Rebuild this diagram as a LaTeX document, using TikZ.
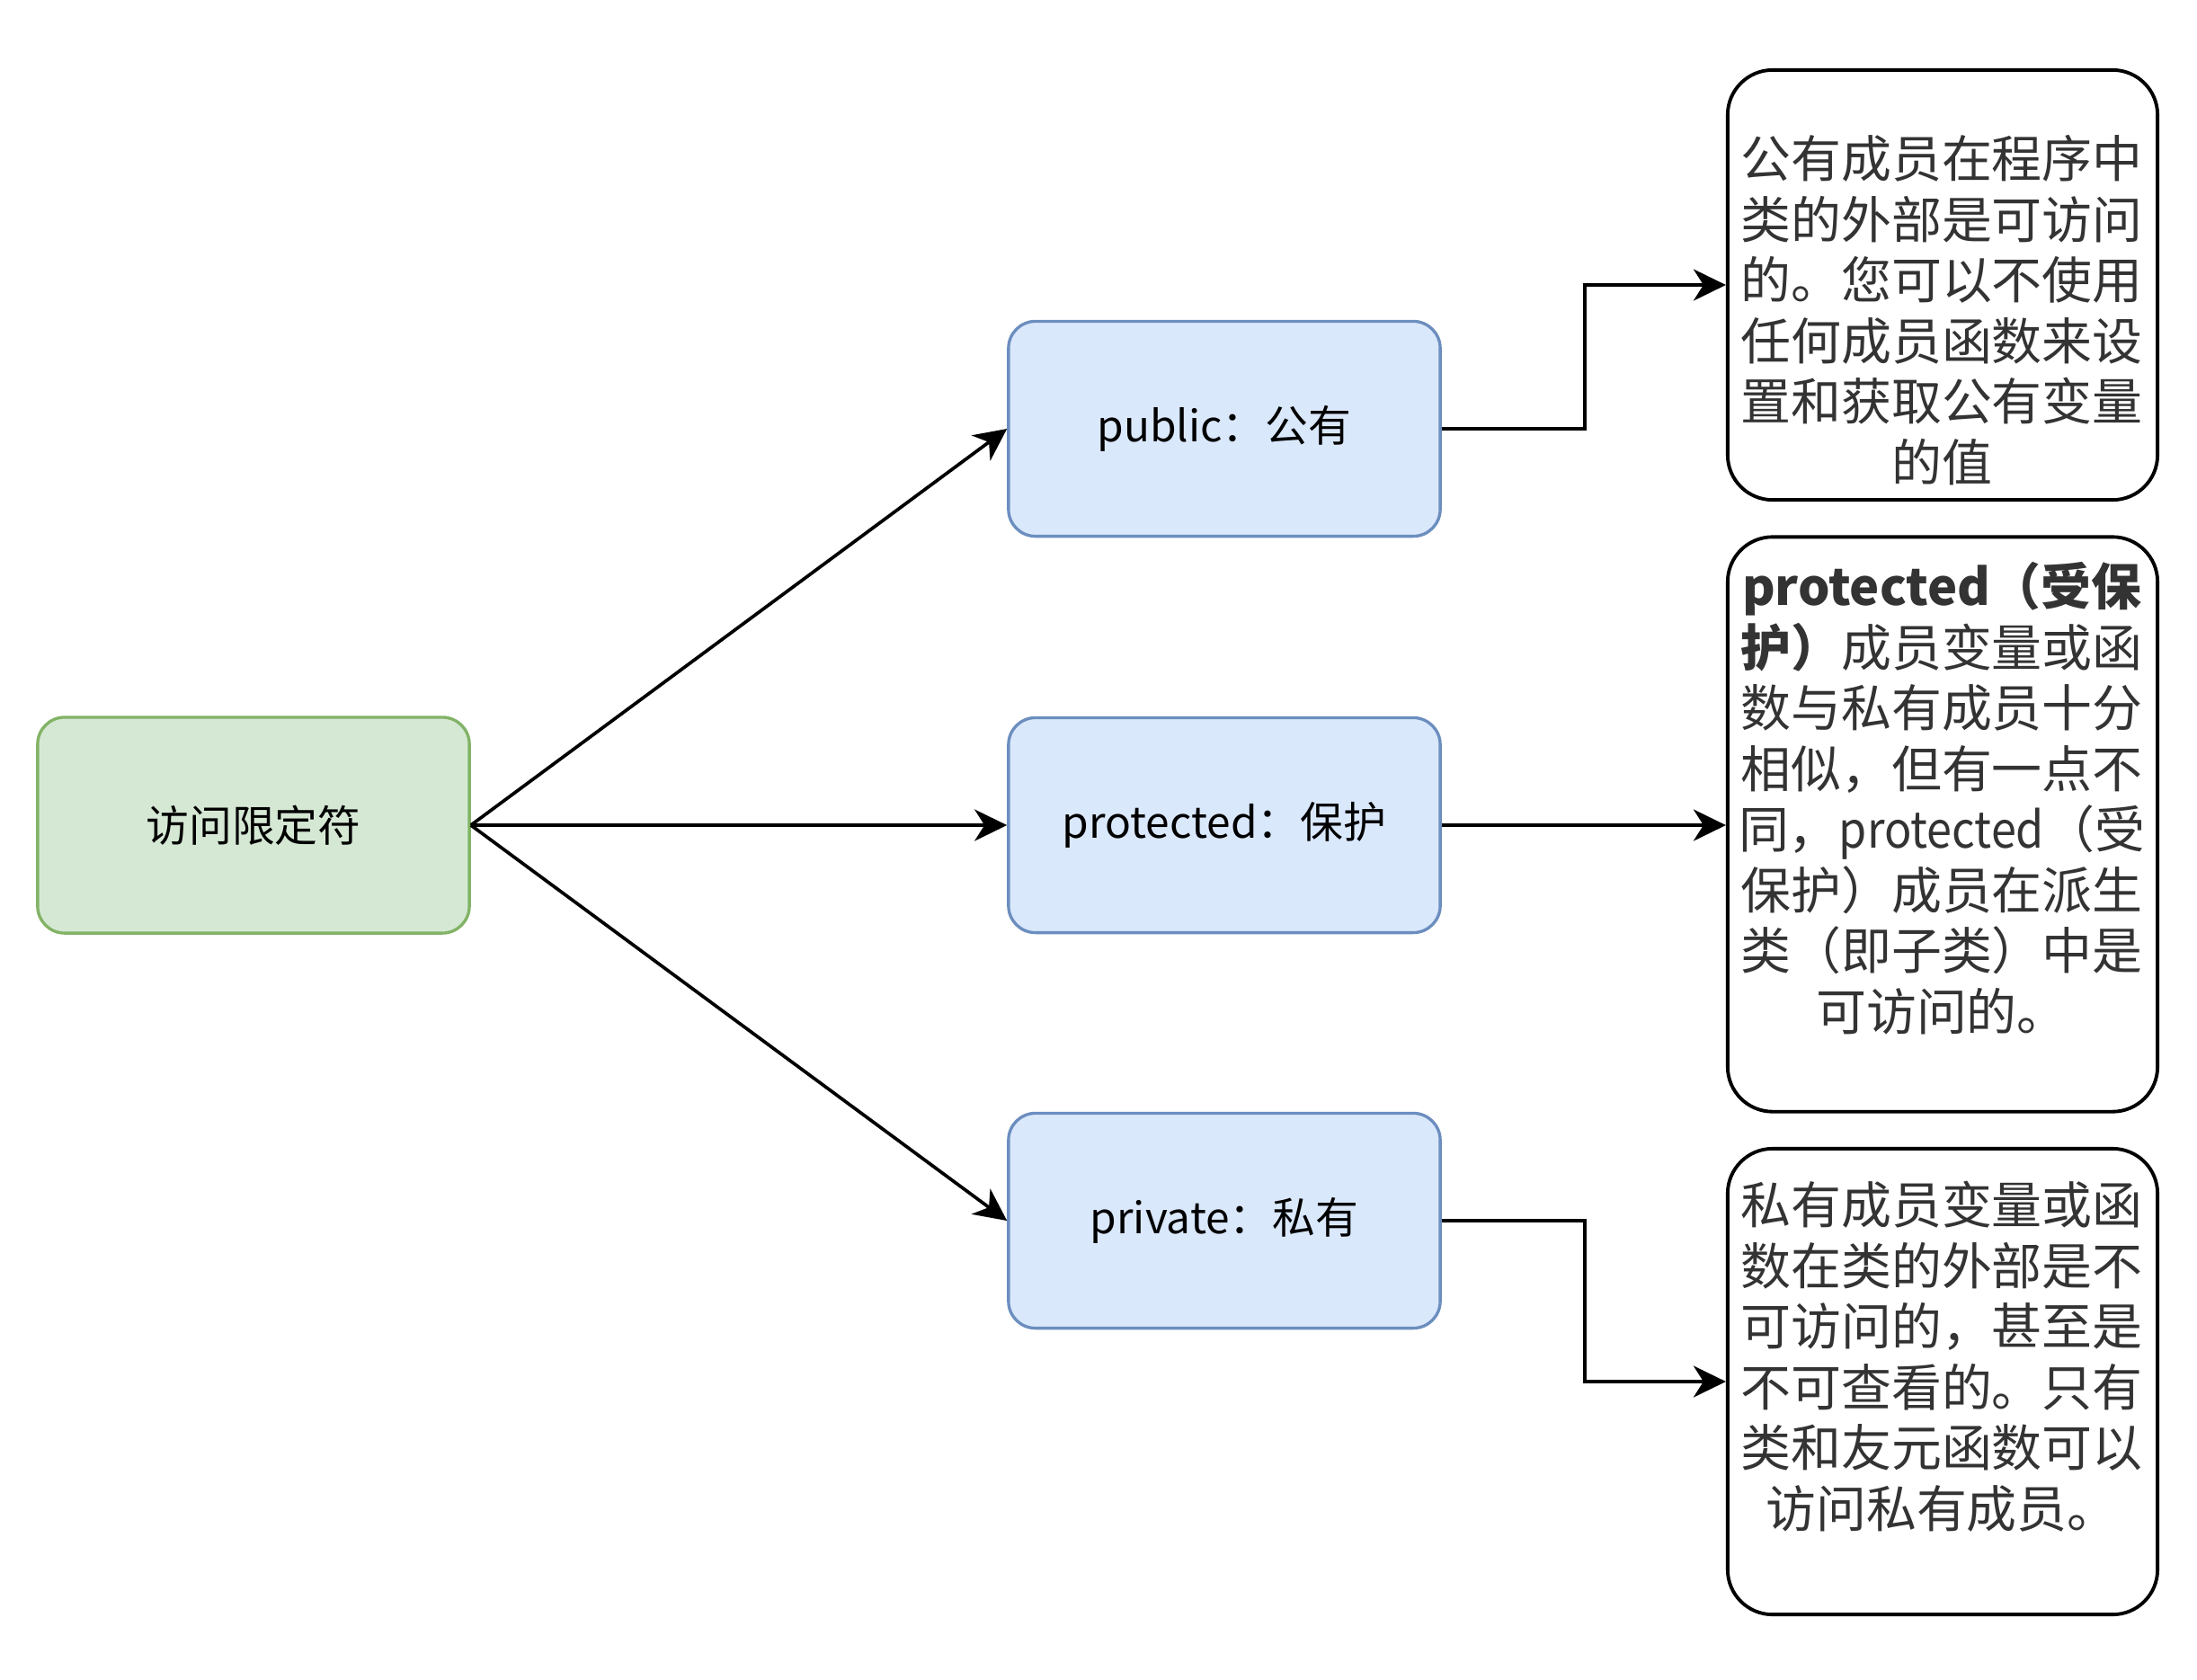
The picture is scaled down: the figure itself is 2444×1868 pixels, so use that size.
\documentclass[tikz,border=0pt]{standalone}
\usepackage{fontspec}
\setmainfont{Noto Sans CJK SC}
\newfontfamily\narrowlatin{Noto Sans CJK SC}[FakeStretch=0.9]
\usepackage{tikz}
\usetikzlibrary{arrows.meta,positioning}
\usepackage{xcolor}
\definecolor{rootfill}{HTML}{D5E8D4}
\definecolor{rootline}{HTML}{82B366}
\definecolor{kindfill}{HTML}{DAE8FC}
\definecolor{kindline}{HTML}{6C8EBF}
\definecolor{notegray}{HTML}{333333}

\begin{document}
\begin{tikzpicture}[
      x=0.01cm, y=-0.01cm,
      rootbox/.style={draw=rootline, fill=rootfill, line width=0.95pt, rounded corners=0.3cm,
        minimum width=4.8cm, minimum height=2.4cm, font=\fontsize{13.6pt}{16pt}\selectfont},
      kindbox/.style={draw=kindline, fill=kindfill, line width=0.95pt, rounded corners=0.3cm,
        minimum width=4.8cm, minimum height=2.39cm, font=\fontsize{13.6pt}{16pt}\selectfont},
      notebox/.style={draw, line width=1.1pt, rounded corners=0.5cm, minimum width=4.78cm},
      notetext/.style={align=center, text=notegray, inner sep=0pt,
        font=\fontsize{15.9pt}{19.2pt}\selectfont},
      link/.style={-{Stealth[length=3.6mm, width=3.5mm, inset=1.1mm]}, line width=1.05pt},
    ]
    \useasboundingbox (0,0) rectangle (2444,1868);

    % Root and the three kinds
    \node[rootbox] (root) at (282,918) {访问限定符};
    \foreach \y/\name/\txt in {477/pub/public：公有, 918/prot/protected：保护, 1358/priv/private：私有}
      \node[kindbox] (\name) at (1362,\y) {\txt};
    \foreach \name in {pub, prot, priv}
      \draw[link] (root.east) -- (\name.west);

    % Notes
    \node[notebox, minimum height=4.78cm] (pubnote) at (2161,317) {};
    \node[notetext] (pubtext) at (2160,345)
      {公有成员在程序中\\类的外部是可访问\\的。您可以不使用\\任何成员函数来设\\置和获取公有变量\\的值};
    \node[notebox, minimum height=6.39cm] (protnote) at (2161,917) {};
    \node[notetext] (prottext) at (2160,888)
      {\textbf{protected（受保}\\\textbf{护）}成员变量或函\\数与私有成员十分\\相似，但有一点不\\同，{\narrowlatin protected}（受\\保护）成员在派生\\类（即子类）中是\\可访问的。};
    \node[notebox, minimum height=5.18cm] (privnote) at (2161,1537) {};
    \node[notetext] (privtext) at (2160,1509)
      {私有成员变量或函\\数在类的外部是不\\可访问的，甚至是\\不可查看的。只有\\类和友元函数可以\\访问私有成员。};

    \draw[link] (pub.east) -- ++(159,0) |- (pubnote.west);
    \draw[link] (prot.east) -- (prot.east -| protnote.west);
    \draw[link] (priv.east) -- ++(159,0) |- (privnote.west);
  \end{tikzpicture}
\end{document}
